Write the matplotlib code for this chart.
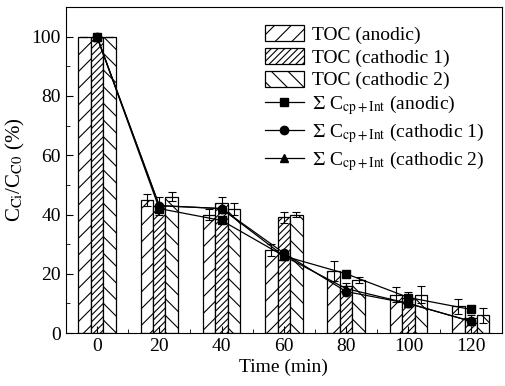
import matplotlib.pyplot as plt
import numpy as np

plt.rcParams["font.family"] = ["Liberation Serif", "DejaVu Serif"]
plt.rcParams["mathtext.fontset"] = "stix"
plt.rcParams["hatch.linewidth"] = 0.8

time = [0, 20, 40, 60, 80, 100, 120]

toc_anodic = [100, 45, 40, 28, 21, 13, 9]
toc_anodic_err = [0, 2, 2, 2, 3.4, 2.5, 2.5]
toc_cath1 = [100, 43, 44, 39, 16, 12, 5]
toc_cath1_err = [0, 3, 2, 2, 1, 2, 1]
toc_cath2 = [100, 46, 42, 40, 18, 13, 6]
toc_cath2_err = [0, 1.5, 2, 1, 1, 3, 2.5]

sum_anodic = [100, 42, 38, 26, 20, 12, 8]
sum_cath1 = [100, 43, 42, 27, 14, 10, 4]
sum_cath2 = [100, 43, 42, 26, 15, 10, 4]

figure, axis = plt.subplots(figsize=(5.06, 3.86), dpi=100)
figure.subplots_adjust(left=0.130, right=0.992, bottom=0.137, top=0.982)

x = np.array(time)
bar_width = 4
error_style = dict(ecolor="black", elinewidth=0.8, capsize=3, capthick=0.8)

bars = [
    axis.bar(x - bar_width, toc_anodic, bar_width, yerr=toc_anodic_err,
             facecolor="white", edgecolor="black", linewidth=0.9, hatch="//",
             error_kw=error_style, label="TOC (anodic)"),
    axis.bar(x, toc_cath1, bar_width, yerr=toc_cath1_err,
             facecolor="white", edgecolor="black", linewidth=0.9, hatch="/////",
             error_kw=error_style, label="TOC (cathodic 1)"),
    axis.bar(x + bar_width, toc_cath2, bar_width, yerr=toc_cath2_err,
             facecolor="white", edgecolor="black", linewidth=0.9, hatch="\\\\",
             error_kw=error_style, label="TOC (cathodic 2)"),
]

sub = r"$\Sigma$ C$_{\mathrm{cp+Int}}$"
lines = []
for values, marker, name in [(sum_anodic, "s", "anodic"),
                             (sum_cath1, "o", "cathodic 1"),
                             (sum_cath2, "^", "cathodic 2")]:
    line, = axis.plot(x, values, color="black", linewidth=0.9, marker=marker,
                      markersize=6, label=f"{sub} ({name})")
    lines.append(line)

axis.set_xlim(-10, 130)
axis.set_ylim(0, 110)
axis.set_xticks(time)
axis.set_xticks(np.arange(10, 130, 20), minor=True)
axis.set_yticks(np.arange(0, 101, 20))
axis.set_yticks(np.arange(10, 110, 20), minor=True)
axis.tick_params(which="both", direction="in", labelsize=14)
axis.tick_params(which="major", length=5)
axis.tick_params(which="minor", length=3)

axis.set_xlabel("Time (min)", fontsize=14, labelpad=3)
axis.set_ylabel(r"C$_{\mathrm{Ci}}$/C$_{\mathrm{C0}}$ (%)", fontsize=15, labelpad=3)

handles = bars + lines
axis.legend(handles, [h.get_label() for h in handles],
            loc="upper left", bbox_to_anchor=(0.43, 0.98), frameon=False,
            fontsize=14, handlelength=2.0, handleheight=0.9, labelspacing=0.2,
            handletextpad=0.4, borderaxespad=0.2)

figure.savefig("out.png", dpi=100)
